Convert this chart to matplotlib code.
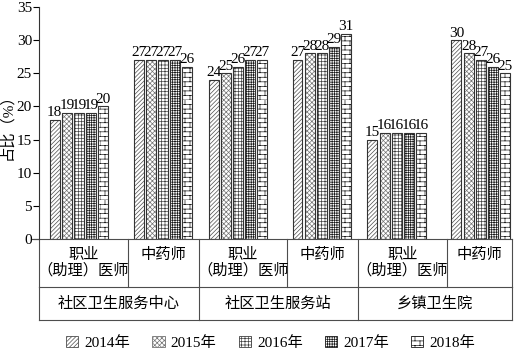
import warnings
import numpy as np
import matplotlib
matplotlib.use("Agg")
from matplotlib import pyplot as plt
from matplotlib import hatch as mhatch
from matplotlib.path import Path
import matplotlib.patches as mpatches

warnings.filterwarnings("ignore")
plt.rcParams['font.family'] = ['Liberation Serif', 'Noto Sans CJK SC']
plt.rcParams['hatch.linewidth'] = 0.5

years = ["2014年", "2015年", "2016年", "2017年", "2018年"]
posts = ["职业\n（助理）医师", "中药师"] * 3
sites = ["社区卫生服务中心", "社区卫生服务站", "乡镇卫生院"]
v2014 = [18, 27, 24, 27, 15, 30]
v2015 = [19, 27, 25, 28, 16, 28]
v2016 = [19, 27, 26, 28, 16, 27]
v2017 = [19, 27, 27, 29, 16, 26]
v2018 = [20, 26, 27, 31, 16, 25]
series = [v2014, v2015, v2016, v2017, v2018]


class BrickHatch(mhatch.HatchPatternBase):
    # brick-wall texture, used with the letter 'b'
    def __init__(self, hatch, density):
        self.rows = 22 if 'b' in hatch else 0
        self.cols = 10
        self.num_vertices = self.rows * 2 + self.rows * self.cols * 2
        self.filled = False
        self.should_stroke = True

    def set_vertices_and_codes(self, vertices, codes):
        k = 0
        for r in range(self.rows):
            y0 = r / self.rows
            y1 = (r + 1) / self.rows
            vertices[k] = (0, y0)
            vertices[k + 1] = (1, y0)
            codes[k] = Path.MOVETO
            codes[k + 1] = Path.LINETO
            k += 2
            for c in range(self.cols):
                x = (c + 0.5 * (r % 2)) / self.cols
                vertices[k] = (x, y0)
                vertices[k + 1] = (x, y1)
                codes[k] = Path.MOVETO
                codes[k + 1] = Path.LINETO
                k += 2


mhatch._hatch_types.append(BrickHatch)

hatches = ['////////', 'xxxxxxx', '+++++', '+++++++', 'b']
hcolors = ['0.3', '0.45', '0.25', '0.1', '0.1']

fig = plt.figure(figsize=(5.18, 3.53), dpi=100)
ax = fig.add_axes([0.0753, 0.323, 0.913, 0.657])

centers = np.array([0, 1.057, 2, 3.057, 4, 5.057])
pitch = 0.153
width = 0.125
handles = []
for i, (vals, h, hc) in enumerate(zip(series, hatches, hcolors)):
    x = centers + (i - 2) * pitch
    ax.bar(x, vals, width, facecolor='white', edgecolor=hc, hatch=h, linewidth=0)
    ax.bar(x, vals, width, facecolor='none', edgecolor='0.2', linewidth=0.8)
    for xx, v in zip(x, vals):
        ax.text(xx, v + 0.1, str(v), ha='center', va='bottom', fontsize=11)
    handles.append(mpatches.Patch(facecolor='white', edgecolor=hc, hatch=h,
                                  linewidth=0.6, label=years[i]))

ax.set_xlim(-0.503, 5.45)
ax.set_ylim(0, 35)
ax.set_yticks(range(0, 36, 5))
ax.tick_params(axis='y', labelsize=11, length=4, pad=1)
ax.set_xticks([])
ax.spines['top'].set_visible(False)
ax.spines['right'].set_visible(False)
ax.spines['left'].set_color('0.2')
ax.spines['bottom'].set_visible(False)
ax.set_ylabel("占比（%）", fontsize=11, labelpad=2)

# category table under the axis
tr = ax.transAxes
r1 = -0.207
r2 = -0.350
kw = dict(transform=tr, clip_on=False, color='0.3', lw=0.8)
ax.plot([-0.015, 1.0], [0, 0], **kw)
ax.plot([0, 1.0], [r1, r1], **kw)
ax.plot([0, 1.0], [r2, r2], **kw)
cuts1 = [0.0, 0.188, 0.338, 0.524, 0.674, 0.862, 1.0]
cuts2 = [0.0, 0.338, 0.674, 1.0]
for c in cuts1:
    ax.plot([c, c], [0, r1], **kw)
for c in cuts2:
    ax.plot([c, c], [r1, r2], **kw)
for j, p in enumerate(posts):
    cx = (cuts1[j] + cuts1[j + 1]) / 2
    if j % 2 == 0:
        ax.text(cx, -0.068, "职业", transform=tr, ha='center', va='center', fontsize=11)
        ax.text(cx, -0.135, "（助理）医师", transform=tr, ha='center', va='center', fontsize=11)
    else:
        ax.text(cx, -0.068, p, transform=tr, ha='center', va='center', fontsize=11)
for j, s in enumerate(sites):
    cx = (cuts2[j] + cuts2[j + 1]) / 2
    ax.text(cx, (r1 + r2) / 2, s, transform=tr, ha='center', va='center', fontsize=11)

ax.legend(handles=handles, loc='center', bbox_to_anchor=(0.49, -0.448), ncol=5,
          frameon=False, fontsize=11, handlelength=0.8, handleheight=0.8,
          columnspacing=1.45, handletextpad=0.4, borderpad=0.1)

fig.savefig("out.png", dpi=100)
